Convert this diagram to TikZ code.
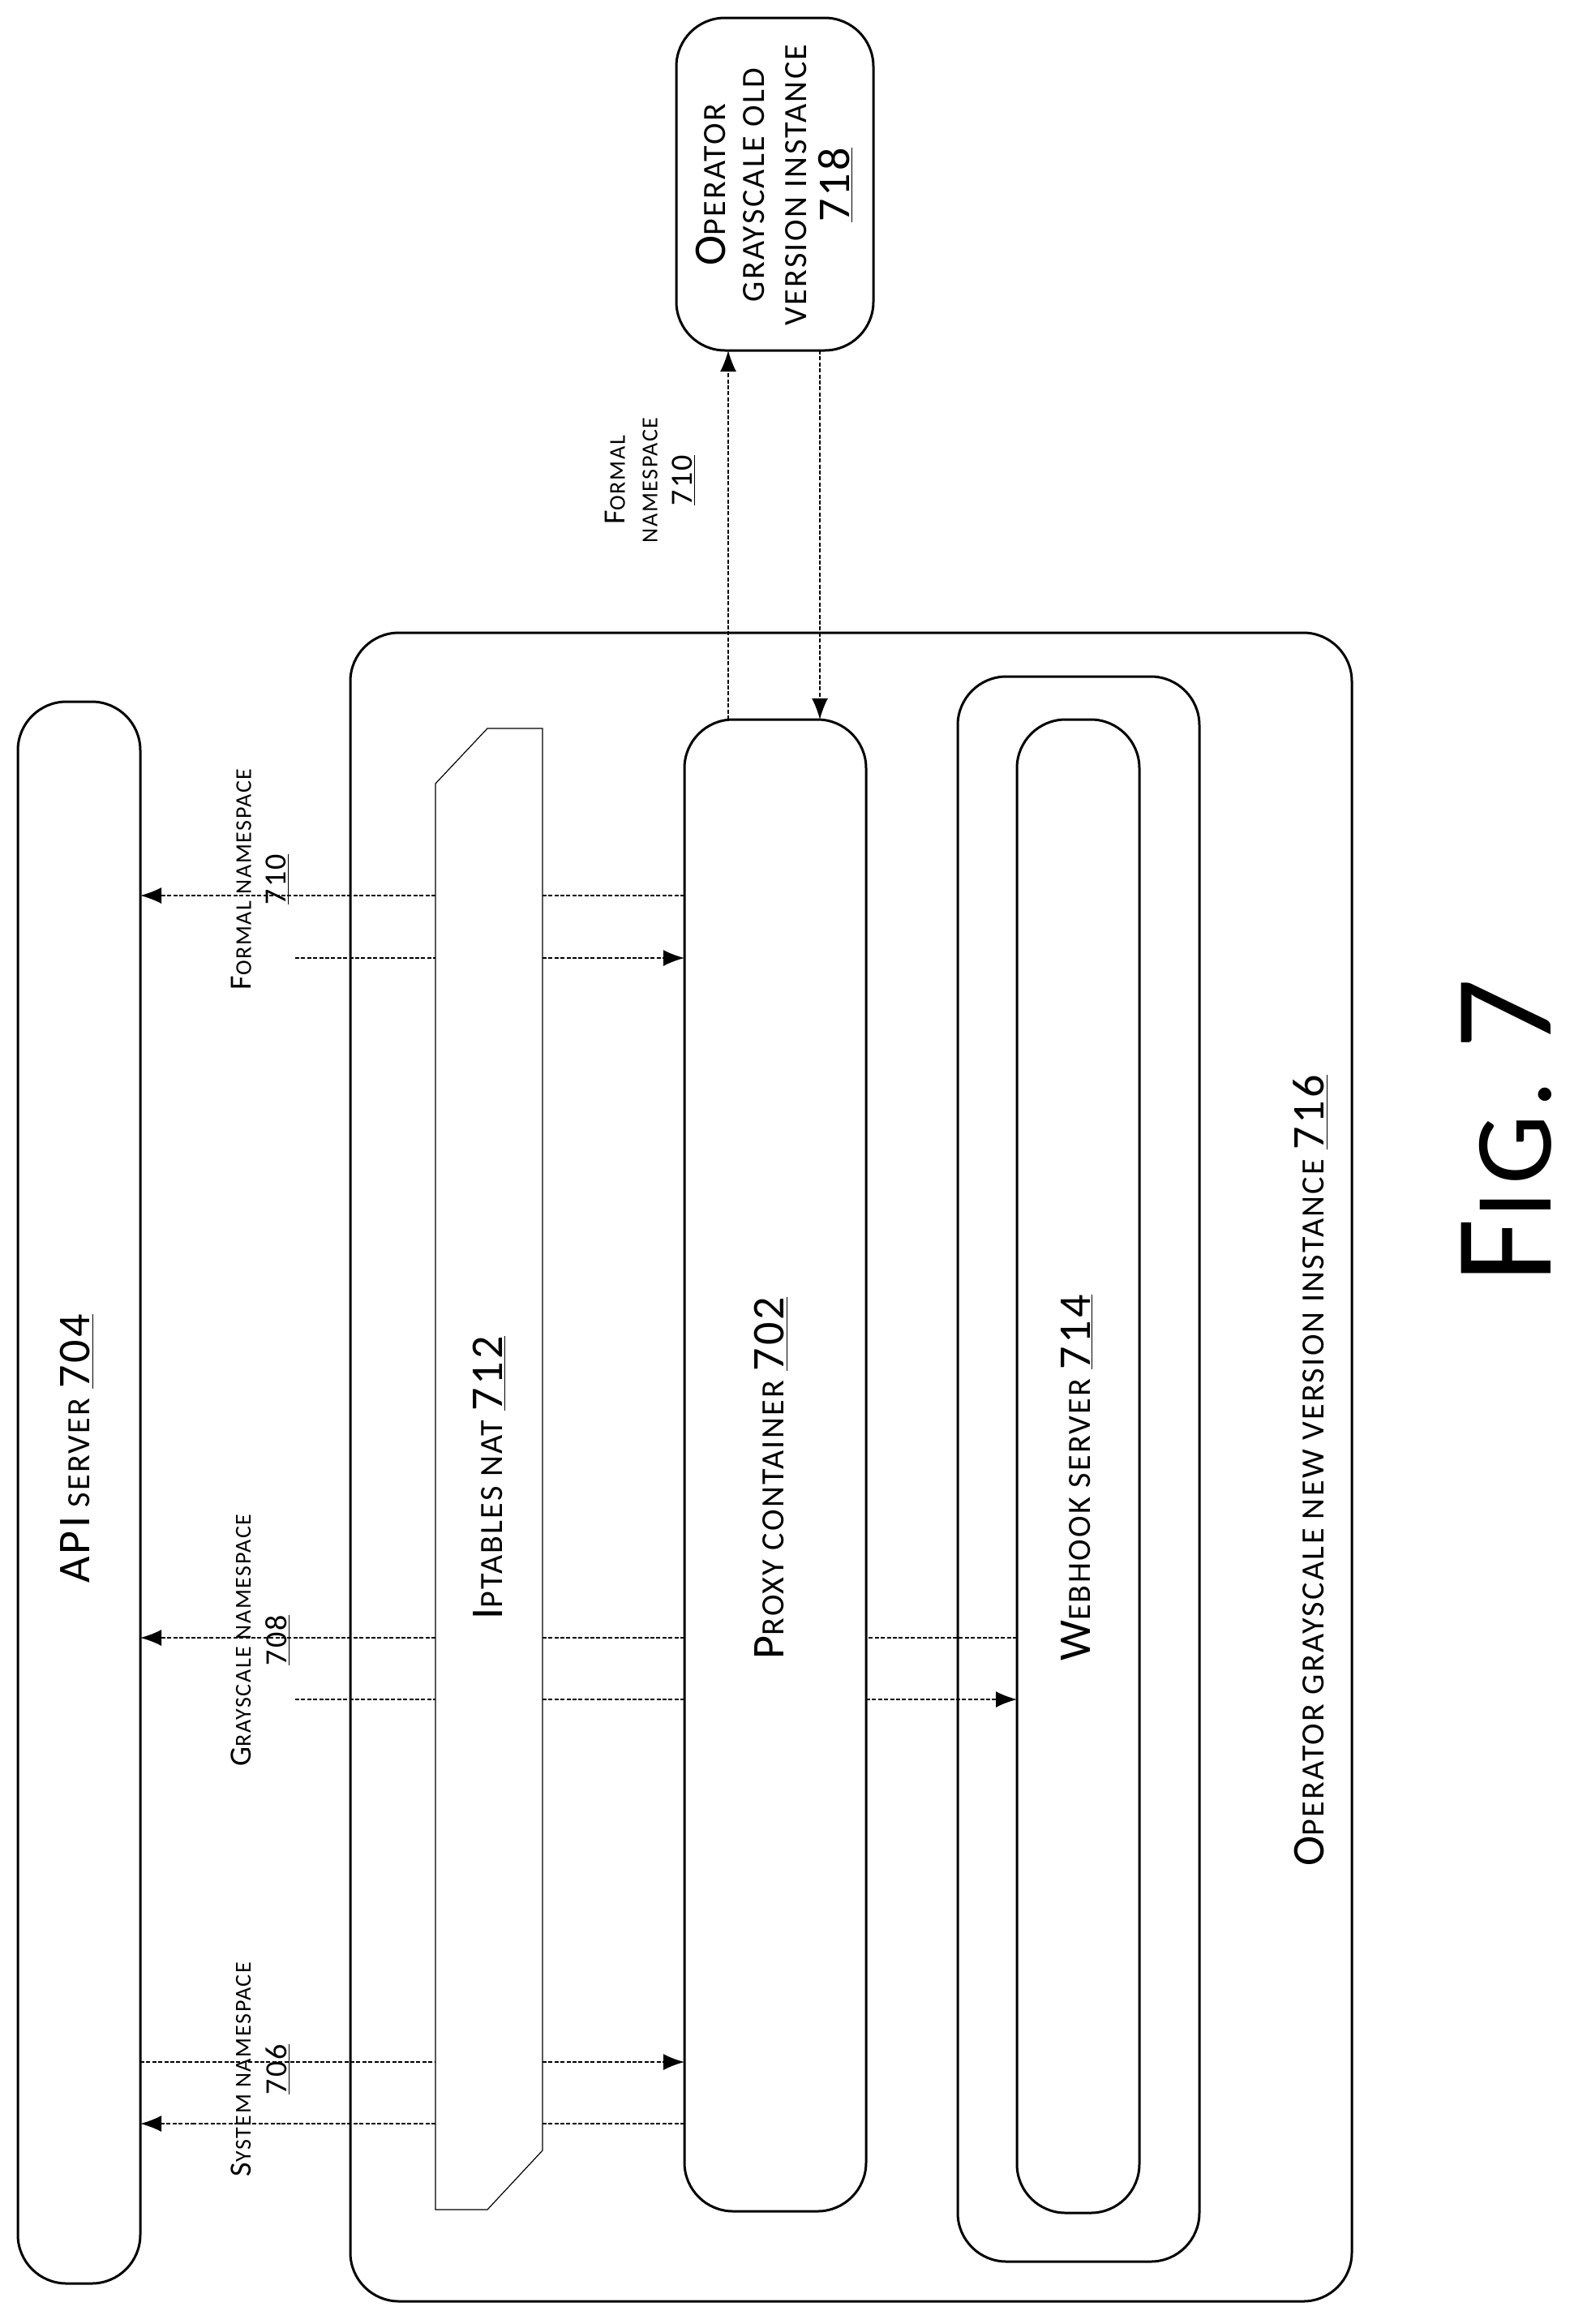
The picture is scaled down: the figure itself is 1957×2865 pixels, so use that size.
\documentclass[tikz,border=0pt]{standalone}
\usepackage{fontspec}
\setmainfont{Carlito}[LetterSpace=6]
\usetikzlibrary{arrows.meta}
\newcommand\Lg{\fontsize{28}{32}\selectfont}
\newcommand\Sm{\fontsize{20}{32}\selectfont}
\newcommand\Ls{\fontsize{19}{20}\selectfont}
\newcommand\Ss{\fontsize{14}{20}\selectfont}
\begin{document}
\begin{tikzpicture}[x=0.5pt,y=-0.5pt,
 box/.style={draw,line width=1.5pt,rounded corners=30pt},
 dl/.style={densely dashed,dash pattern=on 2.5pt off 1.2pt,line width=0.9pt},
 ar/.style={dl,-{Latex[length=13pt,width=10pt]}},
 lbl/.style={rotate=90,align=center,inner sep=0pt}]
\useasboundingbox (0,0) rectangle (1957,2865);
\draw[box] (22,865) rectangle (173,2815);
\node[lbl] (apit) at (95,1786) {\Lg API\Sm\ SERVER \Lg\underline{704}};
\draw[box] (432,780) rectangle (1667,2837);
\node[lbl] (outt) at (1616,1813) {\Lg O\Sm PERATOR GRAYSCALE NEW VERSION INSTANCE \Lg\underline{716}};
\draw[line width=0.6pt] (601,898) -- (669,898) -- (669,2651) -- (601,2724) -- (537,2724) -- (537,966) -- cycle;
\node[lbl] (ipt) at (603,1822) {\Lg I\Sm PTABLES NAT \Lg\underline{712}};
\draw[box] (844,887) rectangle (1068,2726);
\node[lbl] (pxt) at (951,1822) {\Lg P\Sm ROXY CONTAINER \Lg\underline{702}};
\draw[box] (1181,834) rectangle (1479,2788);
\draw[box] (1254,887) rectangle (1405,2728);
\node[lbl] (wht) at (1328,1822) {\Lg W\Sm EBHOOK SERVER \Lg\underline{714}};
\draw[box] (834,22) rectangle (1077,432);
\node[lbl] (oldt) at (955,228) {\Lg O\Sm PERATOR\\[10pt]\Sm GRAYSCALE OLD\\[12pt]\Sm VERSION INSTANCE\\[6pt]\Lg\underline{718}};
\node[lbl] at (802,592) {\Ls F\Ss ORMAL\\[8pt]\Ss NAMESPACE\\[8pt]\Ls\underline{710}};
\node[lbl] at (321,1084) {\Ls F\Ss ORMAL NAMESPACE\\[8pt]\Ls\underline{710}};
\node[lbl] at (321,2022) {\Ls G\Ss RAYSCALE NAMESPACE\\[8pt]\Ls\underline{708}};
\node[lbl] at (321,2551) {\Ls S\Ss YSTEM NAMESPACE\\[8pt]\Ls\underline{706}};
\node[lbl] at (1858,1394) {\fontsize{86}{100}\selectfont F\fontsize{68}{100}\selectfont IG. \fontsize{86}{100}\selectfont 7};
% vertical
\draw[ar] (898,887) -- (898,432);
\draw[ar] (1011,432) -- (1011,887);
% formal 710
\draw[dl] (844,1104) -- (669,1104);
\draw[ar] (537,1104) -- (173,1104);
\draw[dl] (364,1181) -- (537,1181);
\draw[ar] (669,1181) -- (844,1181);
% grayscale 708
\draw[dl] (1254,2019) -- (1068,2019);
\draw[dl] (844,2019) -- (669,2019);
\draw[ar] (537,2019) -- (173,2019);
\draw[dl] (364,2095) -- (537,2095);
\draw[dl] (669,2095) -- (844,2095);
\draw[ar] (1068,2095) -- (1254,2095);
% system 706
\draw[dl] (173,2542) -- (537,2542);
\draw[ar] (669,2542) -- (844,2542);
\draw[dl] (844,2618) -- (669,2618);
\draw[dl] (537,2618) -- (346,2618);
\draw[ar] (240,2618) -- (173,2618);
\draw[dl] (346,2618) -- (240,2618);
\end{tikzpicture}
\end{document}
